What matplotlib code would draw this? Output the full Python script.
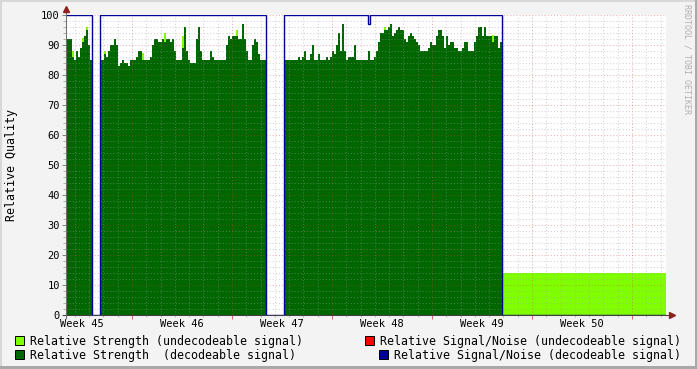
import matplotlib
matplotlib.use("Agg")
import matplotlib.pyplot as plt
from matplotlib.patches import Rectangle
from matplotlib.ticker import MultipleLocator, FixedLocator, NullFormatter
import numpy as np

W, H = 697, 369

# one sample every 0.14 day, graph spans 6 weeks
STEP_DAYS = 0.14
SPAN_DAYS = 42
FIRST_WEEK_LINE = 4.62   # days from the left edge to the first week boundary
WEEK_LABELS = ["Week 45", "Week 46", "Week 47", "Week 48", "Week 49", "Week 50"]

# relative strength, decodeable signal (3 blocks with gaps between)
strength_block1 = [92, 92, 92, 86, 85, 88, 86, 89, 91, 93, 95, 90, 85]
gap1 = 4
strength_block2 = [85, 85, 87, 86, 88, 90, 90, 92, 90, 83, 84, 85, 84, 84, 83, 85, 85,
                   85, 86, 88, 88, 85, 85, 85, 85, 86, 90, 92, 92, 91, 91, 92, 91, 92,
                   92, 91, 92, 88, 85, 85, 85, 89, 96, 88, 85, 84, 84, 84, 92, 96, 88,
                   85, 85, 85, 85, 88, 86, 85, 85, 85, 85, 85, 85, 90, 93, 92, 93, 93,
                   93, 92, 92, 97, 92, 88, 85, 85, 90, 92, 91, 87, 85, 85, 85]
gap2 = 9
strength_block3 = [85, 85, 85, 85, 85, 85, 85, 86, 85, 86, 88, 85, 85, 87, 90, 85, 85,
                   87, 85, 85, 85, 86, 85, 86, 88, 87, 90, 94, 88, 97, 88, 85, 86, 86,
                   86, 90, 85, 85, 85, 85, 85, 85, 88, 85, 85, 86, 88, 91, 94, 94, 95,
                   95, 96, 97, 93, 94, 95, 96, 95, 95, 92, 91, 93, 94, 93, 92, 91, 90,
                   88, 88, 88, 88, 89, 91, 90, 90, 93, 95, 95, 93, 89, 93, 90, 91, 91,
                   89, 89, 88, 88, 89, 91, 91, 88, 88, 88, 91, 93, 96, 96, 93, 96, 93,
                   93, 93, 91, 93, 93, 89, 91]
undecodeable_samples = 82
undecodeable_level = 14
# small undecodeable peaks poking above the decodeable area (sample index, value)
tip_index = [3, 8, 10, 19, 38, 49, 58, 85, 159, 213]
tip_value = [88, 92.5, 96, 88, 87.5, 94, 93, 95, 96, 93.5]

# relative signal/noise (decodeable): 100 while receiving, one dip
snr_decodeable = ([100] * 13 + [0] * 4 + [100] * 83 + [0] * 9 + [100] * 109 + [0] * 82)
snr_dip_index = 151
snr_dip_value = 97

DARK_GREEN = "#006600"
LIGHT_GREEN = "#80FF00"
RED = "#FF0000"
BLUE = "#000099"
MONO = "DejaVu Sans Mono"


def step_xy(values):
    edges = np.arange(len(values) + 1) * STEP_DAYS
    xs = np.repeat(edges, 2)[1:-1]
    ys = np.repeat(np.asarray(values, dtype=float), 2)
    return xs, ys


def fig_xy(x, y):
    return x / W, 1 - y / H


nan = np.nan
decoded = np.concatenate([strength_block1, [nan] * gap1, strength_block2,
                          [nan] * gap2, strength_block3, [nan] * undecodeable_samples])
undecoded = np.full(len(decoded), nan)
undecoded[-undecodeable_samples:] = undecodeable_level
undecoded[tip_index] = tip_value
snr = np.array(snr_decodeable, dtype=float)
snr[snr_dip_index] = snr_dip_value

fig = plt.figure(figsize=(W / 100, H / 100), dpi=100, facecolor="#F3F3F3")
ax = fig.add_axes([66 / W, 1 - 315 / H, 600 / W, 300 / H])
ax.set_facecolor("white")

xs, ys = step_xy(undecoded)
ax.fill_between(xs, 0, ys, color=LIGHT_GREEN, linewidth=0, zorder=1)
xs, ys = step_xy(decoded)
ax.fill_between(xs, 0, ys, color=DARK_GREEN, linewidth=0, zorder=1.1)
xs, ys = step_xy(snr)
ax.plot(xs, ys, color=BLUE, linewidth=1.0, zorder=3, solid_joinstyle="miter")

ax.set_xlim(0, SPAN_DAYS)
ax.set_ylim(0, 100)

week_lines = [FIRST_WEEK_LINE + 7 * k for k in range(len(WEEK_LABELS))]
day_lines = [FIRST_WEEK_LINE - 4 + d for d in range(SPAN_DAYS)]
ax.xaxis.set_major_locator(FixedLocator(week_lines))
ax.xaxis.set_minor_locator(FixedLocator(day_lines))
ax.xaxis.set_major_formatter(NullFormatter())
ax.yaxis.set_major_locator(MultipleLocator(10))
ax.yaxis.set_minor_locator(MultipleLocator(2))

ax.set_axisbelow(False)
ax.grid(which="major", color="#d04040", alpha=0.4, linestyle=(0, (1, 2)), linewidth=0.75)
ax.grid(which="minor", color="#a0a0a0", alpha=0.45, linestyle=(0, (1, 2)), linewidth=0.75)

for s in ax.spines.values():
    s.set_visible(False)
ax.tick_params(axis="y", which="major", length=3, width=0.7, color="#808080", pad=1.5,
               labelsize=7.5, labelfontfamily=MONO)
ax.tick_params(axis="y", which="minor", length=2, width=0.7, color="#b0b0b0")
ax.tick_params(axis="x", which="major", length=3, width=0.7, color="#e06060")
ax.tick_params(axis="x", which="minor", length=1.5, width=0.6, color="#b0b0b0")

for k, lab in enumerate(WEEK_LABELS):
    ax.text(FIRST_WEEK_LINE - 3.5 + 7 * k, -0.012, lab, transform=ax.get_xaxis_transform(),
            ha="center", va="top", fontsize=7.5, family=MONO, clip_on=False)

# axis lines with arrow heads
ax.plot([-0.2, 42.35], [0, 0], color="#404040", linewidth=0.75, clip_on=False, zorder=5)
ax.plot([0, 0], [-1, 101.5], color="#707070", linewidth=0.75, clip_on=False, zorder=5)
ax.plot([42.45], [0], marker=">", markersize=4.5, color="#902020", clip_on=False, zorder=6)
ax.plot([0], [102], marker="^", markersize=4.5, color="#902020", clip_on=False, zorder=6)

fig.text(*fig_xy(12, 165), "Relative Quality", rotation=90, ha="center", va="center",
         fontsize=8.4, family=MONO)
fig.text(*fig_xy(687, 4), "RRDTOOL / TOBI OETIKER", rotation=270, ha="center", va="top",
         fontsize=6, family=MONO, color="#b0b0b0")

legend = [
    (15, 336, LIGHT_GREEN, 30, "Relative Strength (undecodeable signal)"),
    (15, 350, DARK_GREEN, 30, "Relative Strength  (decodeable signal)"),
    (365, 336, RED, 380, "Relative Signal/Noise (undecodeable signal)"),
    (379, 350, BLUE, 394, "Relative Signal/Noise (decodeable signal)"),
]
for bx, by, col, tx, label in legend:
    x0, y0 = fig_xy(bx, by + 9)
    fig.patches.append(Rectangle((x0, y0), 9 / W, 9 / H, transform=fig.transFigure,
                                 facecolor=col, edgecolor="black", linewidth=0.7))
    fig.text(*fig_xy(tx, by + 5), label, ha="left", va="center", fontsize=8.4, family=MONO)

# 3d-ish frame round the image
frame = [
    (0, 0, W, 2, "#d8d8d8"), (0, 0, 2, H, "#d8d8d8"),
    (0, H - 3, W, 3, "#a8a8a8"), (W - 2, 0, 2, H, "#a8a8a8"),
]
for fx, fy, fw, fh, col in frame:
    x0, y0 = fig_xy(fx, fy + fh)
    fig.patches.append(Rectangle((x0, y0), fw / W, fh / H, transform=fig.transFigure,
                                 facecolor=col, edgecolor="none"))

fig.savefig("out.png", dpi=100, facecolor=fig.get_facecolor())
